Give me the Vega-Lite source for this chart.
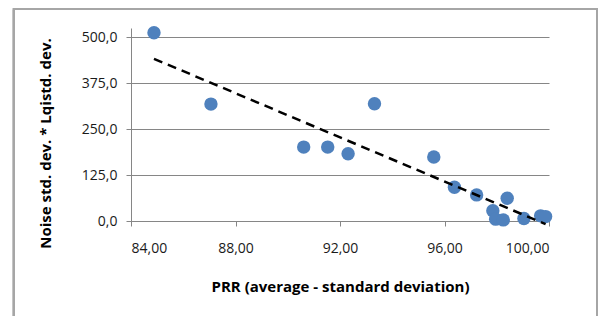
{
  "$schema": "https://vega.github.io/schema/vega-lite/v6.json",
  "autosize": {"type": "none"},
  "width": 418,
  "height": 193,
  "padding": {"left": 131, "top": 28, "right": 49, "bottom": 95},
  "background": "white",
  "config": {
    "view": {"stroke": null},
    "font": "Open Sans",
    "axis": {
      "labelFont": "Open Sans",
      "titleFont": "Open Sans",
      "labelFontSize": 14,
      "titleFontSize": 15,
      "labelColor": "#1a1a1a",
      "titleColor": "#000000",
      "domainColor": "#868686",
      "tickColor": "#868686",
      "gridColor": "#868686",
      "domainWidth": 1,
      "tickWidth": 1,
      "gridWidth": 1,
      "tickSize": 5
    }
  },
  "data": {
    "values": [
      {"x": 84.88, "y": 512},
      {"x": 87.06, "y": 318},
      {"x": 90.61, "y": 201},
      {"x": 91.53, "y": 201},
      {"x": 92.31, "y": 183},
      {"x": 93.32, "y": 319},
      {"x": 95.59, "y": 174},
      {"x": 96.38, "y": 92},
      {"x": 97.23, "y": 71},
      {"x": 98.40, "y": 62},
      {"x": 97.85, "y": 28},
      {"x": 97.96, "y": 5},
      {"x": 98.25, "y": 3},
      {"x": 99.04, "y": 7},
      {"x": 99.68, "y": 14},
      {"x": 99.87, "y": 12}
    ]
  },
  "layer": [
    {
      "mark": {"type": "rect", "fill": null, "stroke": "#a6a6a6", "strokeWidth": 1.5, "clip": false},
      "encoding": {
        "x": {"datum": 79.51, "type": "quantitative", "scale": {"domain": [84, 100], "nice": false, "zero": false}},
        "x2": {"datum": 101.83},
        "y": {"datum": 577, "type": "quantitative", "scale": {"domain": [0, 525], "nice": false, "zero": false}},
        "y2": {"datum": -300}
      }
    },
    {
      "mark": {"type": "point", "filled": true, "shape": "circle", "size": 180, "color": "#4F81BD", "opacity": 1},
      "encoding": {
        "x": {
          "field": "x", "type": "quantitative",
          "scale": {"domain": [84, 100], "nice": false, "zero": false},
          "axis": {
            "values": [84, 88, 92, 96, 100],
            "format": ".2f",
            "labelExpr": "replace(datum.label, '.', ',')",
            "grid": false,
            "labelPadding": 15,
            "title": "PRR (average - standard deviation)",
            "titlePadding": 24,
            "titleFontWeight": "bold"
          }
        },
        "y": {
          "field": "y", "type": "quantitative",
          "scale": {"domain": [0, 525], "nice": false, "zero": false},
          "axis": {
            "values": [0, 125, 250, 375, 500],
            "format": ".1f",
            "labelExpr": "replace(datum.label, '.', ',')",
            "grid": true,
            "labelPadding": 9,
            "title": "Noise std. dev. * Lqistd. dev.",
            "titleFontWeight": "bold",
            "titleX": -78,
            "titleY": 115
          }
        }
      }
    },
    {
      "transform": [{"regression": "y", "on": "x", "method": "linear"}],
      "mark": {"type": "line", "color": "#000000", "strokeWidth": 2.5, "strokeDash": [9, 6]},
      "encoding": {
        "x": {"field": "x", "type": "quantitative"},
        "y": {"field": "y", "type": "quantitative"}
      }
    }
  ]
}
